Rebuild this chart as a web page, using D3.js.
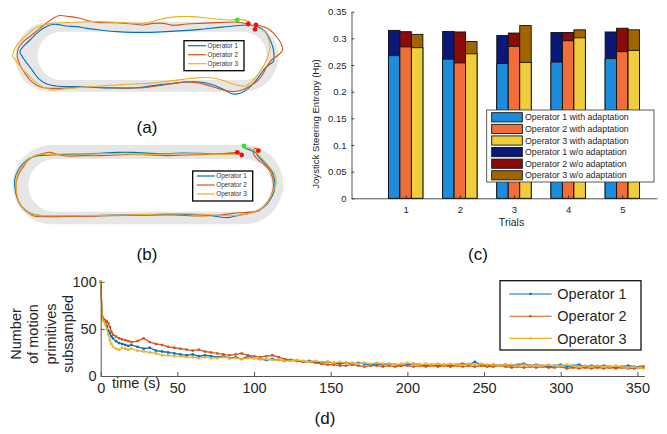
<!DOCTYPE html>
<html><head><meta charset="utf-8">
<script src="https://cdn.jsdelivr.net/npm/d3@7"></script>
<style>body{margin:0;background:#fff}svg{display:block}text{font-family:"Liberation Sans",Arial,sans-serif}</style>
</head><body>
<svg id="c" width="667" height="434"></svg>
<script>
// ---------- DATA ----------
// (c) bar chart
const trials = [1,2,3,4,5];
const withAdapt1 = [0.2675,0.261,0.253,0.2555,0.262];
const withAdapt2 = [0.284,0.254,0.285,0.2955,0.275];
const withAdapt3 = [0.2825,0.271,0.255,0.301,0.2775];
const woAdapt1 = [0.315,0.313,0.3055,0.311,0.312];
const woAdapt2 = [0.3125,0.312,0.310,0.311,0.319];
const woAdapt3 = [0.3075,0.294,0.324,0.316,0.316];
const barTicksY = [0,0.05,0.1,0.15,0.2,0.25,0.3,0.35];
const barLegend = ["Operator 1 with adaptation","Operator 2 with adaptation","Operator 3 with adaptation","Operator 1 w/o adaptation","Operator 2 w/o adaptation","Operator 3 w/o adaptation"];

// (d) time series
const times = [0,1,2,3,4,5,6,7,8,10,12,14,16,18,20,24,28,32,36,40,44,48,52,56,60,64,68,72,76,80,84,88,92,96,100,104,108,112,116,120,124,128,132,136,140,144,148,152,156,160,164,168,172,176,180,184,188,192,196,200,204,208,212,216,220,224,228,232,236,240,244,248,252,256,260,264,268,272,276,280,284,288,292,296,300,304,308,312,316,320,324,328,332,336,340,344,348,352,354];
const op1 = [100,63,60,57,53,48,45,42,40,37,35,34,33,32,33,31,29,30,27,26,25,24,23,22,23,21,22,21,20,21,19,20,18,21,19,18,17,18,17,16,17,16,15,16,15,14,15,14,13,14,13,14,13,12,13,12,13,12,11,12,13,12,11,12,11,12,11,12,13,12,15,12,11,12,11,12,11,12,13,11,12,11,10,11,12,10,11,12,10,11,10,11,10,9,10,11,10,10,10];
const op2 = [100,62,60,59,58,56,52,47,44,42,40,39,38,37,36,37,40,36,34,33,31,30,29,28,27,28,26,25,24,23,22,23,24,22,21,20,21,22,20,18,17,16,15,15,14,13,12,12,11,11,12,11,10,11,11,10,11,10,11,11,10,11,10,11,10,11,10,11,10,11,10,11,10,10,11,10,9,10,9,10,9,10,9,9,10,8,9,8,9,8,9,8,9,8,9,8,8,9,9];
const op3 = [100,60,58,55,50,44,38,34,31,29,28,30,29,28,29,27,26,25,24,22,22,21,21,20,20,19,20,19,19,20,19,19,18,19,19,18,18,17,17,16,16,17,16,15,16,15,15,14,15,14,14,13,14,13,14,13,13,12,13,14,13,12,13,12,13,12,13,12,12,13,12,13,12,12,11,12,12,11,12,11,12,11,12,11,11,12,11,10,11,10,11,10,10,11,10,9,10,9,8];
const timeTicks = [0,50,100,150,200,250,300,350];
const countTicks = [0,50,100];
const opNames = ["Operator 1","Operator 2","Operator 3"];

// (a) trajectories, read in picture units (0..900 x 0..330)
const trackA_outer = [[45,65],[835,275]], trackA_inner = [[113,95],[800,240]];
const trajA1 = [[740,75],[700,78],[650,83],[600,88],[550,92],[500,95],[450,97],[400,97],[350,95],[300,90],[260,85],[230,80],[200,78],[170,73],[150,75],[130,85],[110,100],[90,120],[65,145],[60,155],[70,175],[85,195],[100,215],[115,235],[140,252],[170,258],[220,260],[280,262],[340,264],[400,264],[440,260],[480,254],[520,250],[560,246],[600,246],[640,255],[670,268],[700,282],[720,280],[745,265],[765,245],[780,225],[795,205],[810,192],[820,185],[822,165],[818,140],[808,115],[795,95],[775,80],[760,75]];
const trajA2 = [[760,78],[745,72],[700,66],[650,68],[600,70],[560,72],[520,76],[490,70],[460,70],[430,75],[400,72],[350,68],[300,68],[265,62],[240,55],[210,50],[175,47],[160,55],[145,65],[120,85],[95,105],[70,125],[55,145],[52,170],[60,195],[75,220],[95,245],[125,262],[170,265],[230,262],[300,262],[370,264],[430,263],[470,258],[510,252],[550,246],[590,248],[630,258],[670,270],[700,275],[725,270],[750,258],[775,240],[790,220],[800,200],[815,180],[835,165],[848,150],[842,128],[828,108],[810,90],[790,80],[768,75]];
const trajA3 = [[750,65],[720,58],[690,60],[660,58],[620,54],[580,50],[540,50],[510,52],[480,58],[455,65],[430,70],[400,70],[350,67],[300,65],[250,66],[200,68],[160,70],[130,75],[105,85],[80,105],[60,125],[45,145],[38,168],[50,185],[65,205],[85,225],[105,245],[130,262],[160,270],[200,266],[250,262],[300,258],[350,255],[400,252],[450,250],[500,244],[550,238],[600,233],[640,234],[680,245],[710,255],[735,258],[760,240],[780,215],[795,190],[805,165],[810,135],[802,108],[790,90],[775,78],[765,88]];
const startA = [[712,60]], endA = [[745,72],[768,75],[765,88]];

// (b) trajectories, picture units (0..900 x 0..300)
const trackB_outer = [[38,30],[850,268]], trackB_inner = [[85,72],[815,230]];
const trajB1 = [[720,55],[650,57],[600,55],[550,54],[500,56],[450,55],[400,52],[350,52],[300,55],[250,57],[200,58],[150,60],[115,62],[90,70],[70,85],[55,105],[45,130],[45,160],[52,190],[65,215],[85,232],[110,240],[160,243],[220,243],[280,242],[340,240],[400,240],[460,240],[520,237],[560,238],[620,240],[680,248],[720,240],[760,232],[790,218],[810,195],[822,170],[825,145],[818,115],[805,95],[790,80],[775,65],[765,52],[750,45],[735,40]];
const trajB2 = [[715,52],[680,55],[620,58],[560,60],[500,62],[450,60],[400,58],[350,60],[300,62],[250,62],[200,63],[170,58],[150,52],[130,55],[105,62],[85,75],[70,95],[55,120],[48,150],[50,180],[58,205],[75,225],[100,242],[150,245],[220,244],[300,243],[380,241],[450,240],[520,240],[600,243],[660,240],[700,235],[740,232],[775,228],[795,210],[812,185],[820,160],[818,130],[808,105],[792,88],[775,75],[760,55],[765,40],[775,47]];
const trajB3 = [[725,55],[680,58],[620,57],[560,56],[500,57],[440,58],[380,57],[320,56],[260,57],[200,57],[150,58],[110,60],[85,75],[65,95],[52,120],[48,150],[52,185],[62,210],[80,230],[110,240],[170,242],[240,242],[310,241],[380,240],[450,238],[520,236],[580,237],[640,240],[700,242],[750,235],[785,220],[805,198],[818,172],[828,145],[825,118],[810,98],[795,80],[778,62],[765,48],[750,40],[740,36]];
const startB = [[732,33]], endB = [[712,52],[725,60],[775,47]];

// ---------- DRAW ----------
const svg = d3.select("#c");
const lineCols = ["#0072BD","#D95319","#EDB120"];
const barColsW = ["#1e8cdc","#f06e37","#f0cd3c"];
const barColsWo = ["#0a1978","#8c0a0a","#a06400"];
const axisCol = "#262626";

function stadium(g, sx, sy, box, fill){
  const x0=sx(box[0][0]), x1=sx(box[1][0]), y0=sy(box[0][1]), y1=sy(box[1][1]);
  const r=(y1-y0)/2;
  g.append("rect").attr("x",x0).attr("y",y0).attr("width",x1-x0).attr("height",y1-y0).attr("rx",r).attr("ry",r).attr("fill",fill);
}
function trackPanel(sx, sy, outer, inner, trajs, starts, ends, legendBox){
  const g = svg.append("g");
  stadium(g, sx, sy, outer, "#e6e6e6");
  stadium(g, sx, sy, inner, "#ffffff");
  const ln = d3.line().x(d=>sx(d[0])).y(d=>sy(d[1])).curve(d3.curveCatmullRom);
  trajs.forEach((t,i)=>g.append("path").attr("d",ln(t)).attr("fill","none").attr("stroke",lineCols[i]).attr("stroke-width",1.1));
  g.selectAll(".s").data(starts).join("circle").attr("cx",d=>sx(d[0])).attr("cy",d=>sy(d[1])).attr("r",2.4).attr("fill","#22ee22");
  g.selectAll(".e").data(ends).join("circle").attr("cx",d=>sx(d[0])).attr("cy",d=>sy(d[1])).attr("r",2.4).attr("fill","#ee1111");
  const [lx,ly,lw,lh] = legendBox;
  g.append("rect").attr("x",lx).attr("y",ly).attr("width",lw).attr("height",lh).attr("fill","#fff").attr("stroke","#000").attr("stroke-width",1.3);
  opNames.forEach((n,i)=>{
    const yy = ly+5+i*9;
    g.append("line").attr("x1",lx+4).attr("x2",lx+22).attr("y1",yy).attr("y2",yy).attr("stroke",lineCols[i]).attr("stroke-width",1.2);
    g.append("text").attr("x",lx+23.5).attr("y",yy).attr("dy","0.35em").attr("font-size",6.4).attr("fill","#333").text(n);
  });
}
trackPanel(d3.scaleLinear().domain([0,900]).range([0,300]), d3.scaleLinear().domain([0,330]).range([0,110]),
  trackA_outer, trackA_inner, [trajA1,trajA2,trajA3], startA, endA, [184,40.7,60,30]);
trackPanel(d3.scaleLinear().domain([0,900]).range([0,300]), d3.scaleLinear().domain([0,300]).range([135,235]),
  trackB_outer, trackB_inner, [trajB1,trajB2,trajB3], startB, endB, [192.7,171,60,30]);

// (c) bar chart
{
  const x = d3.scaleLinear().domain([0,5.64]).range([351.5,657]);
  const y = d3.scaleLinear().domain([0,0.35]).range([198.3,11.7]);
  const g = svg.append("g");
  const bw = 0.212;
  const withA=[withAdapt1,withAdapt2,withAdapt3], woA=[woAdapt1,woAdapt2,woAdapt3];
  for(let k=0;k<3;k++){
    g.selectAll(null).data(trials).join("rect")
      .attr("x",(d)=>x(d+(k-1)*bw-bw/2)).attr("width",x(bw)-x(0))
      .attr("y",(d,i)=>y(woA[k][i])).attr("height",(d,i)=>y(0)-y(woA[k][i]))
      .attr("fill",barColsWo[k]).attr("stroke","#111").attr("stroke-width",0.9);
    g.selectAll(null).data(trials).join("rect")
      .attr("x",(d)=>x(d+(k-1)*bw-bw/2)).attr("width",x(bw)-x(0))
      .attr("y",(d,i)=>y(withA[k][i])).attr("height",(d,i)=>y(0)-y(withA[k][i]))
      .attr("fill",barColsW[k]).attr("stroke","#111").attr("stroke-width",0.9);
  }
  const ay = g.append("g").attr("transform",`translate(${x(0)},0)`)
    .call(d3.axisLeft(y).tickValues(barTicksY).tickFormat(d=>d===0?"0":String(+d.toFixed(2))).tickSizeInner(-3).tickSizeOuter(0).tickPadding(5));
  const ax = g.append("g").attr("transform",`translate(0,${y(0)})`)
    .call(d3.axisBottom(x).tickValues(trials).tickFormat(d3.format("d")).tickSizeInner(-3).tickSizeOuter(0).tickPadding(8));
  [ay,ax].forEach(a=>{a.selectAll("text").attr("font-size",9.5).attr("fill",axisCol).attr("font-family","Liberation Sans, Arial");
    a.selectAll("line,path").attr("stroke",axisCol).attr("stroke-width",0.8);});
  g.append("text").attr("transform","translate(319,124) rotate(-90)").attr("text-anchor","middle").attr("font-size",9.6).attr("fill",axisCol).text("Joystick Steering Entropy (Hp)");
  g.append("text").attr("x",511.5).attr("y",226).attr("text-anchor","middle").attr("font-size",10.5).attr("fill",axisCol).text("Trials");
  g.append("rect").attr("x",486.7).attr("y",110).attr("width",167.3).attr("height",72).attr("fill","#fff").attr("stroke","#333").attr("stroke-width",0.8);
  const legCols = barColsW.concat(barColsWo);
  barLegend.forEach((n,i)=>{
    const yy = 117.3+i*11.6;
    g.append("rect").attr("x",491.7).attr("y",yy-4.6).attr("width",30.6).attr("height",9.2).attr("fill",legCols[i]).attr("stroke","#111").attr("stroke-width",0.9);
    g.append("text").attr("x",525).attr("y",yy).attr("dy","0.35em").attr("font-size",8.8).attr("fill",axisCol).text(n);
  });
}

// (d) time series
{
  const x = d3.scaleLinear().domain([0,354.5]).range([100.7,644.3]);
  const y = d3.scaleLinear().domain([0,100]).range([376,281.8]);
  const g = svg.append("g");
  const series=[op1,op2,op3];
  const ln = d3.line().x(d=>x(d[0])).y(d=>y(d[1]));
  series.forEach((s,i)=>{
    const pts = times.map((t,j)=>[t,s[j]]).filter(d=>d[1]!==undefined);
    g.append("path").attr("d",ln(pts)).attr("fill","none").attr("stroke",lineCols[i]).attr("stroke-width",1.3);
    g.selectAll(null).data(pts).join("rect").attr("x",d=>x(d[0])-1.2).attr("y",d=>y(d[1])-1.2).attr("width",2.4).attr("height",2.4).attr("fill",lineCols[i]);
  });
  const ay = g.append("g").attr("transform",`translate(${x(0)},0)`)
    .call(d3.axisLeft(y).tickValues(countTicks).tickSizeInner(-4).tickSizeOuter(0).tickPadding(4));
  const ax = g.append("g").attr("transform",`translate(0,${y(0)})`)
    .call(d3.axisBottom(x).tickValues(timeTicks).tickSizeInner(-4).tickSizeOuter(0).tickPadding(7));
  [ay,ax].forEach(a=>{a.selectAll("text").attr("font-size",14.5).attr("fill",axisCol).attr("font-family","Liberation Sans, Arial");
    a.selectAll("line,path").attr("stroke","#555").attr("stroke-width",1);});
  g.append("text").attr("x",112).attr("y",388).attr("font-size",14.5).attr("fill",axisCol).text("time (s)");
  const yl = ["Number","of motion","primitives","subsampled"];
  yl.forEach((t,i)=>g.append("text").attr("transform",`translate(${21+i*17.3},334) rotate(-90)`).attr("text-anchor","middle").attr("font-size",14.5).attr("fill",axisCol).text(t));
  g.append("rect").attr("x",500).attr("y",280.7).attr("width",141).attr("height",69.3).attr("fill","#fff").attr("stroke","#111").attr("stroke-width",1.3);
  opNames.forEach((n,i)=>{
    const yy = 294+i*22.2;
    g.append("line").attr("x1",509.3).attr("x2",551.7).attr("y1",yy).attr("y2",yy).attr("stroke",lineCols[i]).attr("stroke-width",1.1);
    g.append("rect").attr("x",530.5-1.1).attr("y",yy-1.1).attr("width",2.2).attr("height",2.2).attr("fill",lineCols[i]);
    g.append("text").attr("x",557.3).attr("y",yy).attr("dy","0.36em").attr("font-size",14.5).attr("fill",axisCol).text(n);
  });
}

[["(a)",147,133],["(b)",147,260],["(c)",478,260],["(d)",325,424]].forEach(l=>
  svg.append("text").attr("x",l[1]).attr("y",l[2]).attr("text-anchor","middle").attr("font-family","Liberation Serif, Times New Roman, serif").attr("font-size",17).attr("fill","#111").text(l[0]));
</script>
</body></html>
